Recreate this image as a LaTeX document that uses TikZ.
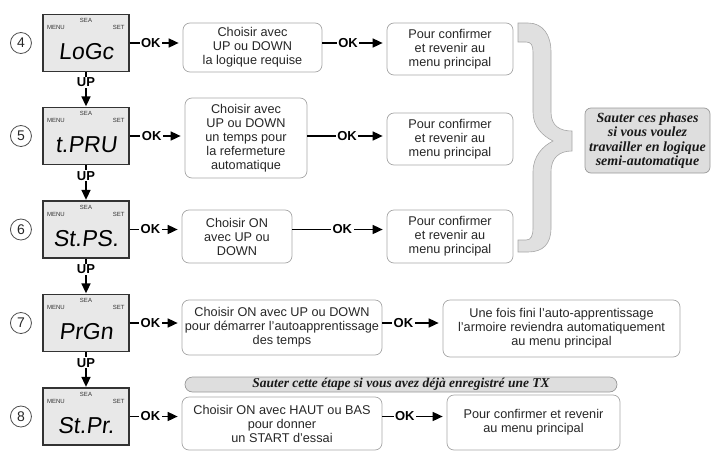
\documentclass[tikz,border=0pt]{standalone}
\usepackage{fontspec}
\setmainfont{Liberation Sans}
\newfontfamily\notefont{Liberation Serif}
\newfontfamily\segfont[FakeSlant=0.12]{Liberation Sans}
\usetikzlibrary{arrows.meta}
\usetikzlibrary{positioning}
\tikzset{
  % thick arrow with a filled head
  flow/.style = {
    draw = black,
    line width = 1.6pt,
    -{Triangle[length=10pt,width=9pt]},
    shorten > = 4pt
  },
  oklabel/.style = {
    fill = white,
    inner sep = 1.5pt,
    pos = .4,
    font = \fontsize{13}{13}\selectfont\bfseries
  },
  uplabel/.style = {
    oklabel,
    inner sep = 1pt,
    pos = .3
  }
}
\tikzset {
  % lcd of the control unit
  display/.style = {
    draw = black!80,
    line width = 1.3pt,
    fill = black!9,
    minimum width = 86pt,
    minimum height = 57pt,
    inner sep = 0pt,
    label = {[lcdtag, xshift=13.5pt, yshift=-14pt]north west:MENU},
    label = {[lcdtag, yshift=-7pt]north:SEA},
    label = {[lcdtag, xshift=-11pt, yshift=-14pt]north east:SET}
  },
  lcdtag/.style = {
    anchor = center,
    inner sep = 0pt,
    text = black!80,
    font = \fontsize{6}{6}\selectfont
  },
  segtext/.style = {
    anchor = center,
    yshift = -9pt,
    inner sep = 0pt,
    font = \segfont\fontsize{23}{23}\selectfont
  },
  % step number
  stepnum/.style = {
    draw = black!70,
    circle,
    line width = .8pt,
    minimum size = 21pt,
    inner sep = 0pt,
    text = black!85,
    font = \fontsize{14}{14}\selectfont
  },
  % text box
  choice/.style = {
    draw = black!35,
    line width = .7pt,
    rounded corners = 7pt,
    align = center,
    inner sep = 1pt,
    text = black!85,
    font = \fontsize{12.7}{14}\selectfont
  },
  skipnote/.style = {
    choice,
    draw = black!40,
    fill = black!13,
    text = black!90,
    font = \notefont\fontsize{14}{14.5}\selectfont\bfseries\itshape
  },
  bracefill/.style = {
    fill = black!12,
    draw = black!35,
    line width = .6pt
  }
}

\begin{document}
\begin{tikzpicture}[x=1pt, y=-1pt]
  \useasboundingbox (0,0) rectangle (715,461);

  \node[display, label={[segtext]center:LoGc}] (lcd4) at (86,43) {};
  \node[display, label={[segtext]center:t.PRU}] (lcd5) at (86,136) {};
  \node[display, label={[segtext]center:St.PS.}] (lcd6) at (86,229.5) {};
  \node[display, label={[segtext]center:PrGn}] (lcd7) at (86,323) {};
  \node[display, label={[segtext]center:St.Pr.}] (lcd8) at (86,416.5) {};

  \node[stepnum] (num4) [left=10.5pt of lcd4] {4};
  \node[stepnum] (num5) [left=10.5pt of lcd5] {5};
  \node[stepnum] (num6) [left=10.5pt of lcd6] {6};
  \node[stepnum] (num7) [left=10.5pt of lcd7] {7};
  \node[stepnum] (num8) [left=10.5pt of lcd8] {8};

  \node[choice, minimum width=139pt, minimum height=49pt] (choose4) at (252.5,47.5)
    {Choisir avec\\UP ou DOWN\\la logique requise};
  \node[choice, minimum width=126pt, minimum height=52pt] (confirm4) at (450,49)
    {Pour confirmer\\et revenir au\\menu principal};

  \node[choice, minimum width=122pt, minimum height=80pt] (choose5) at (246,138)
    {Choisir avec\\UP ou DOWN\\un temps pour\\la refermeture\\automatique};
  \node[choice, minimum width=126pt, minimum height=52pt] (confirm5) at (450,139)
    {Pour confirmer\\et revenir au\\menu principal};

  \node[choice, minimum width=110pt, minimum height=53pt] (choose6) at (237,236.5)
    {Choisir ON\\avec UP ou\\DOWN};
  \node[choice, minimum width=126pt, minimum height=53pt] (confirm6) at (450,236.5)
    {Pour confirmer\\et revenir au\\menu principal};

  \node[choice, minimum width=200pt, minimum height=55pt] (choose7) at (282,327.5)
    {Choisir ON avec UP ou DOWN\\pour démarrer l'autoapprentissage\\des temps};
  \node[choice, minimum width=237pt, minimum height=57pt] (learn7) at (561.5,328.5)
    {Une fois fini l'auto-apprentissage\\l'armoire reviendra automatiquement\\au menu principal};

  \node[skipnote, rounded corners=7.5pt, inner sep=0pt, minimum width=432pt,
    minimum height=15pt, font=\notefont\fontsize{13.5}{13.5}\selectfont\bfseries\itshape]
    (skip8) at (401,384.5)
    {Sauter cette étape si vous avez déjà enregistré une TX};
  \node[choice, minimum width=200pt, minimum height=53pt] (choose8) at (282,423.5)
    {Choisir ON avec HAUT ou BAS\\pour donner\\un START d'essai};
  \node[choice, minimum width=173pt, minimum height=55pt] (confirm8) at (533.5,422.5)
    {Pour confirmer et revenir\\au menu principal};

  \node[skipnote, rounded corners=6pt, minimum width=125pt, minimum height=65pt]
    (skipnote) at (647.5,140.5)
    {Sauter ces phases\\si vous voulez\\travailler en logique\\semi-automatique};

  % brace over steps 4 to 6
  \filldraw[bracefill] (518,23) -- (528,23)
    .. controls (543,23) and (551,35) .. (551,52) -- (551,112)
    .. controls (551,126) and (560,131) .. (572,131) -- (572,151)
    .. controls (560,151) and (551,157) .. (551,172) -- (551,228)
    .. controls (551,244) and (543,252) .. (528,252) -- (518,252) -- (518,240)
    -- (526,240) .. controls (531,240) and (533,236) .. (533,228) -- (533,172)
    .. controls (533,156) and (543,146) .. (553,141)
    .. controls (543,136) and (533,127) .. (533,112) -- (533,52)
    .. controls (533,45) and (531,42) .. (526,42) -- (518,42) -- cycle;

  \draw[flow, shorten >=.5pt] (lcd4) -- node[uplabel] {UP} (lcd5);
  \draw[flow, shorten >=.5pt] (lcd5) -- node[uplabel] {UP} (lcd6);
  \draw[flow, shorten >=.5pt] (lcd6) -- node[uplabel] {UP} (lcd7);
  \draw[flow, shorten >=.5pt] (lcd7) -- node[uplabel] {UP} (lcd8);

  \draw[flow] (lcd4) -- node[oklabel] {OK} (lcd4 -| choose4.west);
  \draw[flow] (lcd5) -- node[oklabel] {OK} (lcd5 -| choose5.west);
  \draw[flow] (lcd6) -- node[oklabel] {OK} (lcd6 -| choose6.west);
  \draw[flow] (lcd7) -- node[oklabel] {OK} (lcd7 -| choose7.west);
  \draw[flow] (lcd8) -- node[oklabel] {OK} (lcd8 -| choose8.west);

  \draw[flow] (choose4.east |- lcd4) -- node[oklabel] {OK} (lcd4 -| confirm4.west);
  \draw[flow] (choose5.east |- lcd5) -- node[oklabel, pos=.5] {OK} (lcd5 -| confirm5.west);
  \draw[flow] (choose6.east |- lcd6) -- node[oklabel, pos=.53] {OK} (lcd6 -| confirm6.west);
  \draw[flow] (choose7.east |- lcd7) -- node[oklabel, pos=.35] {OK} (lcd7 -| learn7.west);
  \draw[flow] (choose8.east |- lcd8) -- node[oklabel, pos=.35] {OK} (lcd8 -| confirm8.west);
\end{tikzpicture}
\end{document}
